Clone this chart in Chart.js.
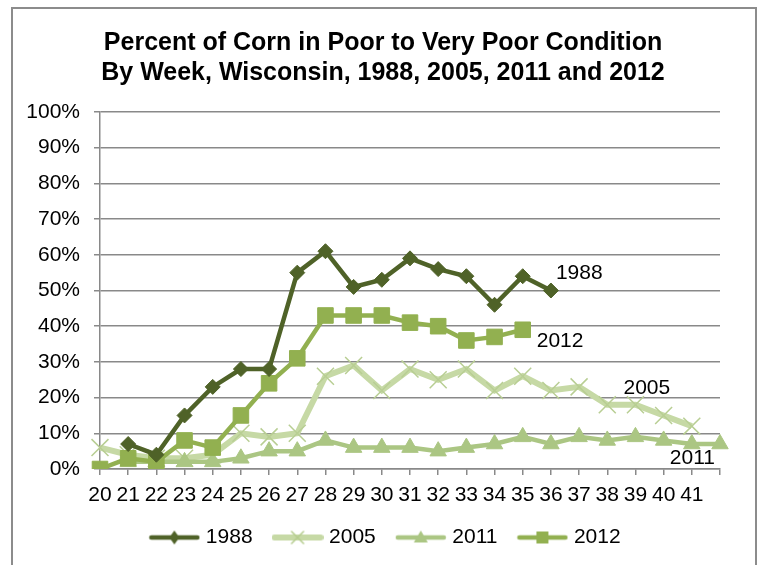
<!DOCTYPE html>
<html>
<head>
<meta charset="utf-8">
<script src="https://cdn.jsdelivr.net/npm/chart.js@4.4.1/dist/chart.umd.min.js"></script>
<style>
  html, body { margin: 0; padding: 0; background: #ffffff; overflow: hidden; }
  #wrap { position: relative; width: 762px; height: 565px; }
  #frame { position: absolute; left: 11px; top: 7px; width: 746px; height: 580px; border: 2px solid #8c8c8c; box-sizing: border-box; }
  canvas { position: absolute; left: 0; top: 0; }
</style>
</head>
<body>
<div id="wrap">
  <div id="frame"></div>
  <canvas id="c" width="762" height="565"></canvas>
</div>
<script>
// ---- Data ----
const weeks = [20, 21, 22, 23, 24, 25, 26, 27, 28, 29, 30, 31, 32, 33, 34, 35, 36, 37, 38, 39, 40, 41, 42];
const weekLabels = ['20', '21', '22', '23', '24', '25', '26', '27', '28', '29', '30', '31', '32', '33', '34', '35', '36', '37', '38', '39', '40', '41', ''];
const yTickLabels = ['0%', '10%', '20%', '30%', '40%', '50%', '60%', '70%', '80%', '90%', '100%'];
const seriesNames = ['1988', '2005', '2011', '2012'];
const v1988 = [null, 7, 4, 15, 23, 28, 28, 55, 61, 51, 53, 59, 56, 54, 46, 54, 50, null, null, null, null, null, null];
const v2005 = [6, 4, 3, 3, 4, 10, 9, 10, 26, 29, 22, 28, 25, 28, 22, 26, 22, 23, 18, 18, 15, 12, null];
const v2011 = [null, 2, 2, 2, 2, 3, 5, 5, 8, 6, 6, 6, 5, 6, 7, 9, 7, 9, 8, 9, 8, 7, 7];
const v2012 = [0, 3, 2, 8, 6, 15, 24, 31, 43, 43, 43, 41, 40, 36, 37, 39, null, null, null, null, null, null, null];
const titleLines = ['Percent of Corn in Poor to Very Poor Condition', 'By Week, Wisconsin, 1988, 2005, 2011 and 2012'];
// series label placement: [series index, category index of anchor point]
const seriesLabelAnchors = [[0, 16], [1, 19], [2, 21], [3, 15]];

// ---- Styles ----
const FONT = '"Liberation Sans", Arial, sans-serif';
const colors = ['#4F6228', '#C6D9A5', '#ABC683', '#92B050'];
const widths = [4.5, 6, 4.5, 4.5];
const pStyles = ['rectRot', 'crossRot', 'triangle', 'rect'];
const pRadius = [7.5, 12, 9.5, 11];
const labelOffsets = [[5, -17], [-12, -17], [-22, 14], [14, 11]];

function legendImage(i) {
  const cv = document.createElement('canvas');
  cv.width = 52; cv.height = 20;
  const ctx = cv.getContext('2d');
  ctx.strokeStyle = colors[i];
  ctx.lineWidth = widths[i];
  ctx.lineCap = 'round';
  ctx.beginPath(); ctx.moveTo(3, 10); ctx.lineTo(49, 10); ctx.stroke();
  ctx.fillStyle = colors[i];
  const cx = 26, cy = 10;
  ctx.beginPath();
  if (i === 0) { ctx.moveTo(cx, cy - 7); ctx.lineTo(cx + 5, cy); ctx.lineTo(cx, cy + 7); ctx.lineTo(cx - 5, cy); ctx.closePath(); ctx.fill(); }
  else if (i === 1) { ctx.lineWidth = 1.5; ctx.moveTo(cx - 6, cy - 6); ctx.lineTo(cx + 6, cy + 6); ctx.moveTo(cx + 6, cy - 6); ctx.lineTo(cx - 6, cy + 6); ctx.strokeStyle = '#B5CC8E'; ctx.stroke(); }
  else if (i === 2) { ctx.moveTo(cx, cy - 7); ctx.lineTo(cx + 7, cy + 5); ctx.lineTo(cx - 7, cy + 5); ctx.closePath(); ctx.fill(); }
  else { ctx.rect(cx - 6, cy - 6, 12, 12); ctx.fill(); }
  return cv;
}

const allValues = [v1988, v2005, v2011, v2012];
const datasets = seriesNames.map((name, i) => ({
  label: name,
  data: allValues[i],
  borderColor: colors[i],
  backgroundColor: colors[i],
  borderWidth: widths[i],
  pointStyle: pStyles[i],
  pointRadius: pRadius[i],
  pointHoverRadius: pRadius[i],
  pointBorderWidth: i === 1 ? 1.5 : 1,
  pointBorderColor: i === 1 ? '#B8CE93' : colors[i],
  pointBackgroundColor: colors[i],
  tension: 0,
  spanGaps: false,
  yAxisID: 'y',
  order: [1, 4, 3, 2][i]
}));

const titlePlugin = {
  id: 'titleText',
  afterDraw(chart) {
    const ctx = chart.ctx;
    ctx.save();
    ctx.fillStyle = '#000';
    ctx.font = 'bold 25px ' + FONT;
    ctx.textAlign = 'center';
    ctx.textBaseline = 'middle';
    ctx.fillText(titleLines[0], 383, 43);
    ctx.fillText(titleLines[1], 383, 73);
    ctx.restore();
  }
};

const seriesLabelPlugin = {
  id: 'seriesLabels',
  afterDatasetsDraw(chart) {
    const ctx = chart.ctx;
    const xs = chart.scales.x, ys = chart.scales.y;
    ctx.save();
    ctx.fillStyle = '#000';
    ctx.font = '21px ' + FONT;
    ctx.textAlign = 'left';
    ctx.textBaseline = 'middle';
    seriesLabelAnchors.forEach(([si, ci]) => {
      const px = xs.getPixelForValue(ci);
      const py = ys.getPixelForValue(allValues[si][ci]);
      ctx.fillText(seriesNames[si], px + labelOffsets[si][0], py + labelOffsets[si][1]);
    });
    ctx.restore();
  }
};

new Chart(document.getElementById('c'), {
  type: 'line',
  data: { labels: weekLabels, datasets },
  options: {
    responsive: false,
    animation: false,
    devicePixelRatio: 1,
    layout: { padding: { top: 112, right: 0, bottom: 7, left: 12 } },
    plugins: {
      title: { display: false },
      tooltip: { enabled: false },
      legend: {
        position: 'bottom',
        labels: {
          usePointStyle: true,
          pointStyleWidth: 42,
          boxHeight: 14,
          padding: 24,
          color: '#000',
          font: { family: FONT, size: 21 },
          generateLabels(chart) {
            return seriesNames.map((n, i) => ({
              text: n, pointStyle: legendImage(i), datasetIndex: i,
              fillStyle: colors[i], strokeStyle: colors[i], lineWidth: 0, hidden: false, fontColor: '#000'
            }));
          }
        }
      }
    },
    scales: {
      x: {
        type: 'category',
        offset: false,
        grid: { display: true, drawOnChartArea: false, drawTicks: true, tickLength: 6, color: '#898989', lineWidth: 1.5 },
        border: { display: true, color: '#898989', width: 1.5 },
        ticks: { color: '#000', font: { family: FONT, size: 21 }, maxRotation: 0, autoSkip: false, padding: 8 },
        afterFit(scale) { scale.height = 34; }
      },
      y: {
        position: 'left',
        min: 0, max: 100,
        grid: { color: '#898989', lineWidth: 1.5, tickLength: 6, drawTicks: true },
        border: { display: true, color: '#898989', width: 1.5 },
        ticks: {
          stepSize: 10, color: '#000', font: { family: FONT, size: 21 }, padding: 14,
          callback(v) { return yTickLabels[Math.round(v / 10)]; }
        },
        afterFit(scale) { scale.width = 88; }
      },
      yRight: {
        position: 'right',
        min: 0, max: 100,
        grid: { display: false, drawOnChartArea: false },
        border: { display: false },
        ticks: { display: false },
        afterFit(scale) { scale.width = 42; }
      }
    }
  },
  plugins: [titlePlugin, seriesLabelPlugin]
});
</script>
</body>
</html>
